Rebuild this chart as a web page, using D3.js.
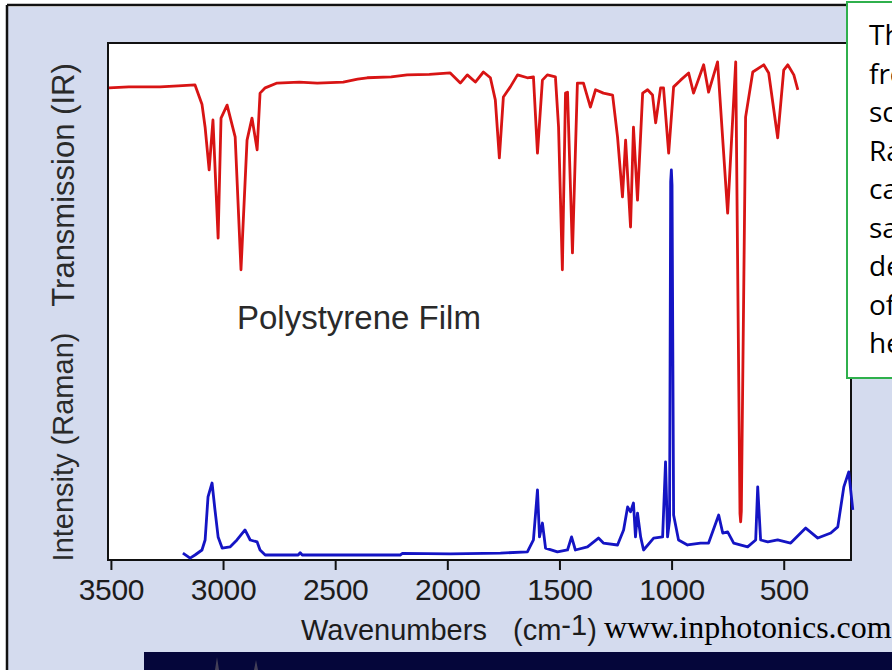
<!DOCTYPE html>
<html>
<head>
<meta charset="utf-8">
<script src="https://cdn.jsdelivr.net/npm/d3@7"></script>
<style>
	body { margin: 0; background: #ffffff; }
	svg { display: block; }
</style>
</head>
<body>
<svg id="chart" width="892" height="670"></svg>
<script>
const WIDTH = 892,
	  HEIGHT = 670;

// frame of the plot
const PLOT_LEFT = 108,
	  PLOT_RIGHT = 851,
	  PLOT_TOP = 43,
	  PLOT_BOTTOM = 560;

// IR spectrum, wavenumber (cm-1) and transmission (%)
const irWavenumbers = [3509, 3420, 3281, 3200, 3125, 3094, 3080, 3062, 3045, 3022, 3009, 2982, 2946, 2920, 2893, 2871, 2848, 2835, 2812, 2759, 2660, 2580, 2464, 2400, 2357, 2250, 2179, 2080, 1987, 1942, 1911, 1875, 1839, 1808, 1786, 1768, 1750, 1719, 1687, 1643, 1616, 1598, 1576, 1554, 1518, 1504, 1487, 1473, 1464, 1442, 1420, 1393, 1362, 1339, 1304, 1263, 1241, 1219, 1205, 1183, 1170, 1152, 1129, 1107, 1085, 1071, 1049, 1036, 1013, 991, 960, 924, 902, 857, 835, 795, 750, 714, 695, 692, 689, 670, 638, 589, 567, 527, 500, 482, 455, 437];
const irTransmission = [94.2, 94.4, 94.4, 94.6, 94.8, 90.8, 86, 77.1, 87.5, 62.9, 87.9, 90.6, 84, 56.3, 83.3, 87.9, 81.3, 93.1, 94.2, 95.2, 95.4, 95.2, 95.4, 96, 96.3, 96.5, 96.9, 97, 97.3, 95.2, 96.9, 95.4, 97.5, 96.3, 91.7, 79.6, 92.3, 94.4, 96.9, 96.3, 96.5, 80.6, 95.8, 96.9, 96.5, 86, 56.3, 93.1, 93.3, 59.8, 95.2, 95.2, 90.2, 93.8, 93.1, 92.7, 84, 71.5, 83.3, 65.2, 86, 70.8, 93.1, 93.8, 92.7, 86.9, 94.2, 94.2, 80.6, 94.4, 95.8, 97.3, 93.1, 99, 93.3, 99.6, 68.1, 99.6, 5.5, 3.8, 6, 88.1, 97.5, 99, 97.3, 83.8, 97.9, 99, 96.9, 93.8];

// Raman spectrum, wavenumber (cm-1) and relative intensity
const ramanWavenumbers = [3179, 3147, 3125, 3094, 3080, 3067, 3049, 3036, 3022, 3004, 2969, 2938, 2902, 2879, 2848, 2835, 2812, 2665, 2656, 2647, 2210, 2200, 1987, 1763, 1643, 1616, 1598, 1589, 1576, 1562, 1509, 1464, 1446, 1429, 1375, 1326, 1304, 1241, 1214, 1196, 1183, 1170, 1161, 1152, 1138, 1125, 1080, 1040, 1027, 1018, 1009, 1004, 1001, 998, 991, 969, 929, 871, 835, 790, 772, 750, 723, 661, 625, 616, 603, 571, 527, 469, 402, 348, 290, 259, 232, 210, 192];
const ramanIntensity = [0.5, -0.8, 0, 1.3, 3.9, 15.1, 18.7, 11.7, 4.7, 1.8, 2.1, 3.9, 6.5, 3.9, 3.4, 1.3, 0, 0, 0.6, 0, 0, 0.4, 0.3, 0.5, 0.8, 3.9, 16.9, 4.7, 8.3, 1.8, 0.8, 1.3, 4.7, 1.3, 2.1, 4.4, 3.1, 2.6, 6.5, 12.5, 11.2, 13.5, 4.7, 10.9, 4.7, 1.3, 4.4, 4.7, 24.2, 4.7, 9, 97, 100, 96, 10.4, 3.9, 2.6, 3.1, 3.1, 10.4, 5.7, 6, 3.1, 2.1, 3.9, 17.7, 3.9, 3.4, 3.9, 3.1, 7, 4.4, 5.7, 7.3, 17.7, 21.6, 11.7];

const tickValues = [3500, 3000, 2500, 2000, 1500, 1000, 500];

// text box on the right, cut by the edge of the slide
const noteLines = ["The two spectra shown", "from the same polystyrene", "scattering and absorption", "Raman and IR bands", "can be compared on the", "same wavenumber axis to", "demonstrate the complementary", "of the two techniques", "here."];

const svg = d3.select("#chart");

let x = d3.scaleLinear()
		.domain([3513, 200])
		.range([PLOT_LEFT, PLOT_RIGHT]);

let yIR = d3.scaleLinear()
		.domain([0, 100])
		.range([540, 60]);

let yRaman = d3.scaleLinear()
		.domain([0, 100])
		.range([555, 170]);

// slide background
svg.append("rect")
		.attr("x", 0).attr("y", 0)
		.attr("width", WIDTH).attr("height", HEIGHT)
		.attr("fill", "#ffffff");

svg.append("rect")
		.attr("x", 8).attr("y", 7)
		.attr("width", WIDTH - 8).attr("height", HEIGHT - 7)
		.attr("fill", "#d4dbee");

// picture strip at the bottom
let strip = svg.append("g");
strip.append("rect")
		.attr("x", 144).attr("y", 652)
		.attr("width", WIDTH - 144).attr("height", HEIGHT - 652)
		.attr("fill", "#05063a");
strip.append("path")
		.attr("d", "M215,670 L217,657 L219,670 Z M254,670 L256,660 L258,670 Z")
		.attr("fill", "#b8a890")
		.attr("opacity", 0.35);

// slide border lines
svg.append("line")
		.attr("x1", 7).attr("y1", 5).attr("x2", 7).attr("y2", HEIGHT)
		.attr("stroke", "#111").attr("stroke-width", 2.5);
svg.append("line")
		.attr("x1", 7).attr("y1", 5).attr("x2", 848).attr("y2", 5)
		.attr("stroke", "#111").attr("stroke-width", 2.5);

// plot area
svg.append("rect")
		.attr("x", PLOT_LEFT).attr("y", PLOT_TOP)
		.attr("width", PLOT_RIGHT - PLOT_LEFT).attr("height", PLOT_BOTTOM - PLOT_TOP)
		.attr("fill", "#ffffff")
		.attr("stroke", "#111")
		.attr("stroke-width", 2);

// x axis
let axis = svg.append("g")
		.attr("transform", "translate(0," + PLOT_BOTTOM + ")")
		.call(d3.axisBottom(x).tickValues(tickValues).tickSize(10).tickPadding(9).tickFormat(d3.format("d")));

axis.select(".domain").remove();
axis.selectAll(".tick line")
		.attr("stroke", "#111")
		.attr("stroke-width", 2);
axis.selectAll(".tick text")
		.attr("fill", "#1c1c1c")
		.style("font-family", "'Liberation Sans', Arial, sans-serif")
		.style("font-size", "30px")
		.style("letter-spacing", "-0.3px");

// spectra
let irLine = d3.line()
		.x((d, i) => x(irWavenumbers[i]))
		.y(d => yIR(d));

let ramanLine = d3.line()
		.x((d, i) => x(ramanWavenumbers[i]))
		.y(d => yRaman(d));

svg.append("path")
		.datum(ramanIntensity)
		.attr("d", ramanLine)
		.attr("fill", "none")
		.attr("stroke", "#1414c4")
		.attr("stroke-width", 2.8)
		.attr("stroke-linejoin", "round");

svg.append("path")
		.datum(irTransmission)
		.attr("d", irLine)
		.attr("fill", "none")
		.attr("stroke", "#d81414")
		.attr("stroke-width", 2.8)
		.attr("stroke-linejoin", "round");

// labels
const labelFont = "'Liberation Sans', Arial, sans-serif";

svg.append("text")
		.attr("transform", "translate(74,185) rotate(-90)")
		.attr("text-anchor", "middle")
		.attr("fill", "#2a2a2a")
		.style("font-family", labelFont)
		.style("font-size", "31px")
		.text("Transmission (IR)");

svg.append("text")
		.attr("transform", "translate(73,447) rotate(-90)")
		.attr("text-anchor", "middle")
		.attr("fill", "#2a2a2a")
		.style("font-family", labelFont)
		.style("font-size", "29px")
		.text("Intensity (Raman)");

svg.append("text")
		.attr("x", 237).attr("y", 329)
		.attr("fill", "#2a2a2a")
		.style("font-family", labelFont)
		.style("font-size", "33px")
		.text("Polystyrene Film");

let xLabel = svg.append("text")
		.attr("x", 301).attr("y", 640)
		.attr("fill", "#1c1c1c")
		.style("font-family", labelFont)
		.style("font-size", "29px");
xLabel.append("tspan").text("Wavenumbers");
xLabel.append("tspan").attr("x", 513).text("(cm");
xLabel.append("tspan").attr("dy", -5).text("-1");
xLabel.append("tspan").attr("dy", 5).text(")");

svg.append("text")
		.attr("x", 604).attr("y", 638)
		.attr("fill", "#000")
		.style("font-family", "'Liberation Serif', 'Times New Roman', serif")
		.style("font-size", "32px")
		.text("www.inphotonics.com");

// note box
svg.append("rect")
		.attr("x", 847).attr("y", 2)
		.attr("width", 80).attr("height", 376)
		.attr("fill", "#ffffff")
		.attr("stroke", "#2fb04c")
		.attr("stroke-width", 2);

svg.append("g").selectAll("text")
		.data(noteLines)
		.join("text")
			.attr("x", 869)
			.attr("y", (d, i) => 45 + i * 38.5)
			.attr("fill", "#000")
			.style("font-family", "'Open Sans', 'Noto Sans', sans-serif")
			.style("font-size", "28px")
			.text(d => d);
</script>
</body>
</html>
